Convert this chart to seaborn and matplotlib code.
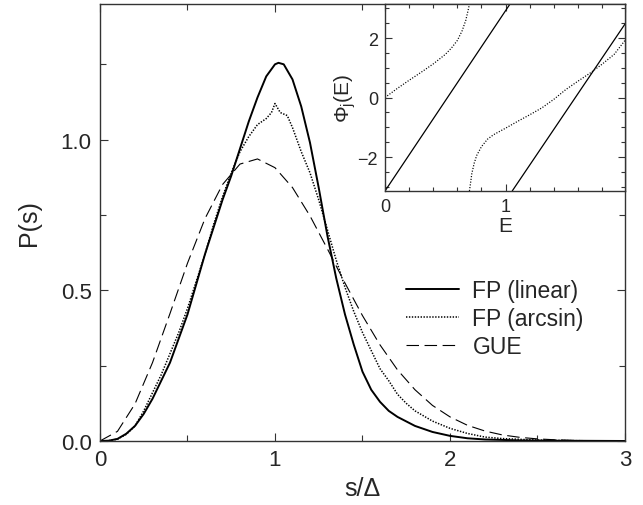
import numpy as np
import pandas as pd
import matplotlib
matplotlib.use("Agg")
import matplotlib.pyplot as plt
import seaborn as sns

sns.set_theme(style="ticks")
plt.rcParams["font.family"] = ["Liberation Sans", "DejaVu Sans"]
plt.rcParams["mathtext.default"] = "regular"
plt.rcParams["lines.scale_dashes"] = False

# ---- main panel data: level-spacing distributions ----
s_lin = [0, 0.05, 0.1, 0.15, 0.2, 0.25, 0.3, 0.35, 0.4, 0.45, 0.5, 0.55, 0.6, 0.65, 0.7,
         0.75, 0.8, 0.85, 0.9, 0.95, 1.0, 1.02, 1.05, 1.1, 1.15, 1.2, 1.25, 1.3, 1.35,
         1.4, 1.45, 1.5, 1.55, 1.6, 1.65, 1.7, 1.8, 1.9, 2.0, 2.1, 2.2, 2.4, 2.6, 3.0]
p_lin = [0, 0.001, 0.007, 0.024, 0.05, 0.09, 0.14, 0.2, 0.26, 0.34, 0.42, 0.52, 0.62, 0.71, 0.8,
         0.88, 0.97, 1.06, 1.14, 1.21, 1.25, 1.255, 1.25, 1.2, 1.11, 0.99, 0.84, 0.68, 0.54,
         0.42, 0.32, 0.23, 0.17, 0.13, 0.1, 0.08, 0.05, 0.03, 0.017, 0.009, 0.005, 0.002, 0.001, 0]

s_arc = [0, 0.05, 0.1, 0.15, 0.2, 0.25, 0.3, 0.35, 0.4, 0.45, 0.5, 0.55, 0.6, 0.65, 0.7,
         0.75, 0.8, 0.85, 0.9, 0.95, 0.98, 1.0, 1.03, 1.07, 1.1, 1.15, 1.2, 1.25, 1.3, 1.35,
         1.4, 1.45, 1.5, 1.55, 1.6, 1.65, 1.7, 1.75, 1.8, 1.9, 2.0, 2.1, 2.2, 2.3, 2.5, 2.7, 3.0]
p_arc = [0, 0.001, 0.006, 0.022, 0.05, 0.1, 0.16, 0.22, 0.29, 0.36, 0.44, 0.53, 0.62, 0.72, 0.81,
         0.89, 0.96, 1.01, 1.05, 1.07, 1.09, 1.12, 1.09, 1.08, 1.04, 0.96, 0.89, 0.8, 0.7, 0.6,
         0.51, 0.43, 0.36, 0.3, 0.24, 0.2, 0.155, 0.125, 0.1, 0.066, 0.042, 0.025, 0.013, 0.008, 0.003, 0.001, 0]

s_gue = [0, 0.1, 0.2, 0.3, 0.4, 0.5, 0.6, 0.7, 0.8, 0.9, 1.0, 1.1, 1.2, 1.3, 1.4, 1.5,
         1.6, 1.7, 1.8, 1.9, 2.0, 2.1, 2.2, 2.3, 2.4, 2.5, 2.6, 2.7, 2.8, 2.9, 3.0]
p_gue = [0, 0.032, 0.123, 0.26, 0.423, 0.59, 0.738, 0.851, 0.919, 0.936, 0.907, 0.841, 0.747,
         0.637, 0.524, 0.416, 0.319, 0.236, 0.17, 0.118, 0.08, 0.052, 0.033, 0.02, 0.012,
         0.007, 0.004, 0.002, 0.001, 0.0005, 0.0003]

# ---- inset data: phases ----
e_lin1 = [0, 1.036]
phi_lin1 = [-3.14, 3.14]
e_lin2 = [1.055, 1.99]
phi_lin2 = [-3.14, 2.47]
e_arc1 = [0, 0.1, 0.2, 0.3, 0.4, 0.5, 0.55, 0.6, 0.64, 0.67, 0.69, 0.70]
phi_arc1 = [0, 0.3, 0.58, 0.85, 1.13, 1.45, 1.66, 1.92, 2.25, 2.6, 2.95, 3.14]
e_arc2 = [0.70, 0.71, 0.72, 0.74, 0.76, 0.8, 0.85, 0.9, 1.0, 1.1, 1.2, 1.3, 1.4, 1.5,
          1.6, 1.7, 1.8, 1.9, 1.99]
phi_arc2 = [-3.14, -2.85, -2.55, -2.2, -1.95, -1.65, -1.4, -1.25, -1.03, -0.8, -0.58, -0.35,
            -0.06, 0.27, 0.55, 0.82, 1.12, 1.45, 1.92]

df_main = pd.concat([
    pd.DataFrame({"s": s_lin, "P": p_lin, "curve": "FP (linear)"}),
    pd.DataFrame({"s": s_arc, "P": p_arc, "curve": "FP (arcsin)"}),
    pd.DataFrame({"s": s_gue, "P": p_gue, "curve": "GUE"}),
])

fig = plt.figure(figsize=(6.43, 5.06), dpi=100)
ax = fig.add_axes([0.1555, 0.1265, 0.8165, 0.8635])

styles = {"FP (linear)": dict(ls="-", lw=1.4),
          "FP (arcsin)": dict(ls=(0, (1.0, 1.1)), lw=1.1),
          "GUE": dict(ls=(0, (9, 4)), lw=0.8)}
for name in ["FP (linear)", "FP (arcsin)", "GUE"]:
    sub = df_main[df_main["curve"] == name]
    sns.lineplot(data=sub, x="s", y="P", ax=ax, color="black", label=name,
                 estimator=None, sort=False, **styles[name])

ax.set_xlim(0, 3)
ax.set_ylim(0, 1.45)
ax.set_xticks([0, 1, 2, 3])
ax.set_xticklabels(["0", "1", "2", "3"])
ax.set_xticks([0.5, 1.5, 2.5], minor=True)
ax.set_yticks([0, 0.5, 1.0])
ax.set_yticklabels(["0.0", "0.5", "1.0"])
ax.set_yticks([0.25, 0.75, 1.25], minor=True)
ax.tick_params(which="both", direction="in", top=True, right=True, labelsize=16, width=0.8,
               color="#333333", pad=6)
ax.tick_params(which="major", length=6)
ax.tick_params(which="minor", length=4)
for sp in ax.spines.values():
    sp.set_linewidth(1.0)
    sp.set_color("#333333")
ax.set_xlabel("s/\u0394", fontsize=18, labelpad=4)
ax.set_ylabel("P(s)", fontsize=18, labelpad=14)

leg = ax.legend(loc="upper left", bbox_to_anchor=(0.548, 0.412), frameon=False, fontsize=16.5,
                handlelength=2.3, handletextpad=0.6, labelspacing=0.22, borderpad=0.3)

# inset
axi = fig.add_axes([0.5988, 0.6206, 0.3732, 0.3694])
axi.plot(e_lin1, phi_lin1, color="black", lw=0.9)
axi.plot(e_lin2, phi_lin2, color="black", lw=0.9)
axi.plot(e_arc1, phi_arc1, color="black", lw=0.9, ls=(0, (0.8, 1.2)))
axi.plot(e_arc2, phi_arc2, color="black", lw=0.9, ls=(0, (0.8, 1.2)))
axi.set_xlim(0, 1.99)
axi.set_ylim(-3.1416, 3.1416)
axi.set_xticks([0, 1])
axi.set_xticks(np.arange(0.2, 1.99, 0.2), minor=True)
axi.set_yticks([-2, 0, 2])
axi.set_yticklabels(["\u22122", "0", "2"])
axi.set_yticks([-3, -2.5, -1.5, -1, -0.5, 0.5, 1, 1.5, 2.5, 3], minor=True)
axi.tick_params(which="both", direction="in", top=True, right=True, labelsize=13, width=0.8,
                color="#333333", pad=5)
axi.tick_params(which="major", length=5)
axi.tick_params(which="minor", length=3)
for sp in axi.spines.values():
    sp.set_linewidth(1.0)
    sp.set_color("#333333")
axi.set_xlabel("E", fontsize=15, labelpad=1)
axi.set_ylabel("$\\Phi_j$(E)", fontsize=15, labelpad=0)
axi.set_facecolor("white")

fig.savefig("out.png", dpi=100)
